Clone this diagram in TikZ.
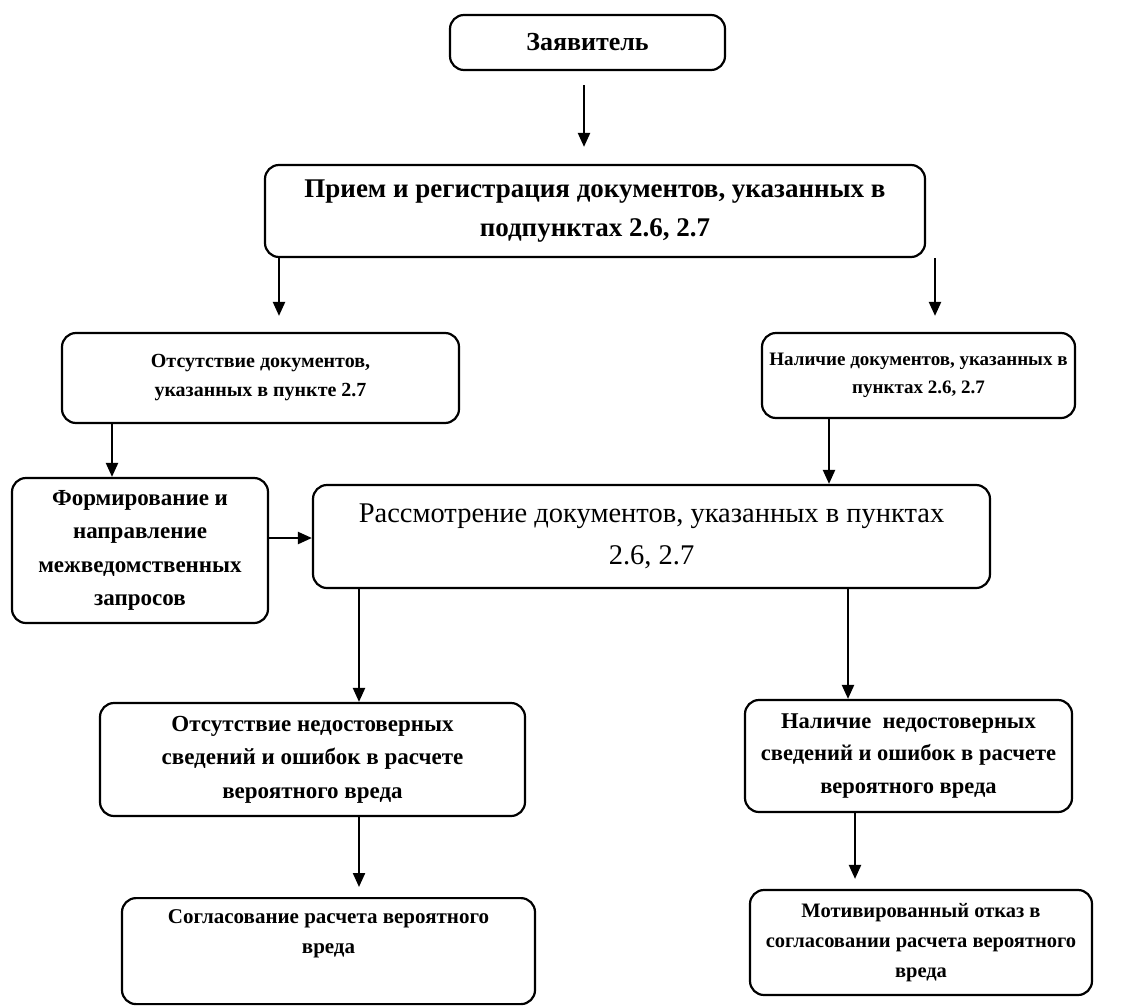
\documentclass[tikz,border=0pt]{standalone}
\usepackage{fontspec}
\setmainfont{Liberation Serif}
\usetikzlibrary{arrows.meta}
\tikzset{
  box/.style={draw, line width=2.2pt, rounded corners=14pt, align=center, inner sep=2pt, font=\bfseries},
  arr/.style={line width=2.2pt, -{Triangle[length=14pt,width=12pt]}},
}
\newcommand{\fsz}[1]{\fontsize{#1}{1.45\dimexpr#1pt\relax}\selectfont}
\begin{document}
\begin{tikzpicture}[x=1pt,y=-1pt]
\useasboundingbox (0,0) rectangle (1147,1006);
\node[box, minimum width=275pt, minimum height=55pt, font=\bfseries\fsz{26}] (zayav) at (587.5,42.5) {Заявитель};
\node[box, minimum width=660pt, minimum height=92pt, font=\bfseries\fsz{27}] (priem) at (595,211) {Прием и регистрация документов, указанных в\\подпунктах 2.6, 2.7};
\node[box, minimum width=397pt, minimum height=90pt, font=\bfseries\fsz{20}] (otsut) at (260.5,378) {Отсутствие документов,\\указанных в пункте 2.7};
\node[box, minimum width=313pt, minimum height=85pt, font=\bfseries\fsz{19}] (nalich) at (918.5,375.5) {Наличие документов, указанных в\\пунктах 2.6, 2.7};
\node[box, minimum width=256pt, minimum height=145pt, font=\bfseries\fontsize{23}{33.5}\selectfont] (form) at (140,550.5) {Формирование и\\направление\\межведомственных\\запросов};
\node[box, minimum width=677pt, minimum height=103pt, font=\fsz{28.5}] (rassm) at (651.5,536.5) {Рассмотрение документов, указанных в пунктах\\2.6, 2.7};
\node[box, minimum width=425pt, minimum height=113pt, font=\bfseries\fsz{23}] (otsned) at (312.5,759.5) {Отсутствие недостоверных\\сведений и ошибок в расчете\\вероятного вреда};
\node[box, minimum width=327pt, minimum height=112pt, font=\bfseries\fsz{22.5}] (nalned) at (908.5,756) {Наличие\ \ недостоверных\\сведений и ошибок в расчете\\вероятного вреда};
\node[box, minimum width=413pt, minimum height=106pt, font=\bfseries\fsz{21}, anchor=north] (soglas) at (328.5,897) {Согласование расчета вероятного\\вреда\\\strut};
\node[box, minimum width=342pt, minimum height=105pt, font=\bfseries\fsz{20.5}] (motiv) at (921,942.5) {Мотивированный отказ в\\согласовании расчета вероятного\\вреда};
\coordinate (xa) at (584,0);
\coordinate (xb) at (279,0);
\coordinate (xc) at (935,0);
\coordinate (xd) at (112,0);
\coordinate (xe) at (829,0);
\coordinate (xf) at (359,0);
\coordinate (xg) at (848,0);
\coordinate (xh) at (855,0);
\coordinate (ya) at (0,538);
\draw[arr, shorten <=14pt, shorten >=17pt] (zayav.south -| xa) -- (priem.north -| xa);
\draw[arr, shorten >=16pt] (priem.south -| xb) -- (otsut.north -| xb);
\draw[arr, shorten >=16pt] (priem.south -| xc) -- (nalich.north -| xc);
\draw[arr] (otsut.south -| xd) -- (form.north -| xd);
\draw[arr] (nalich.south -| xe) -- (rassm.north -| xe);
\draw[arr] (form.east |- ya) -- (rassm.west |- ya);
\draw[arr] (rassm.south -| xf) -- (otsned.north -| xf);
\draw[arr] (rassm.south -| xg) -- (nalned.north -| xg);
\draw[arr, shorten >=10pt] (otsned.south -| xf) -- (soglas.north -| xf);
\draw[arr, shorten >=10pt] (nalned.south -| xh) -- (motiv.north -| xh);
\end{tikzpicture}
\end{document}
